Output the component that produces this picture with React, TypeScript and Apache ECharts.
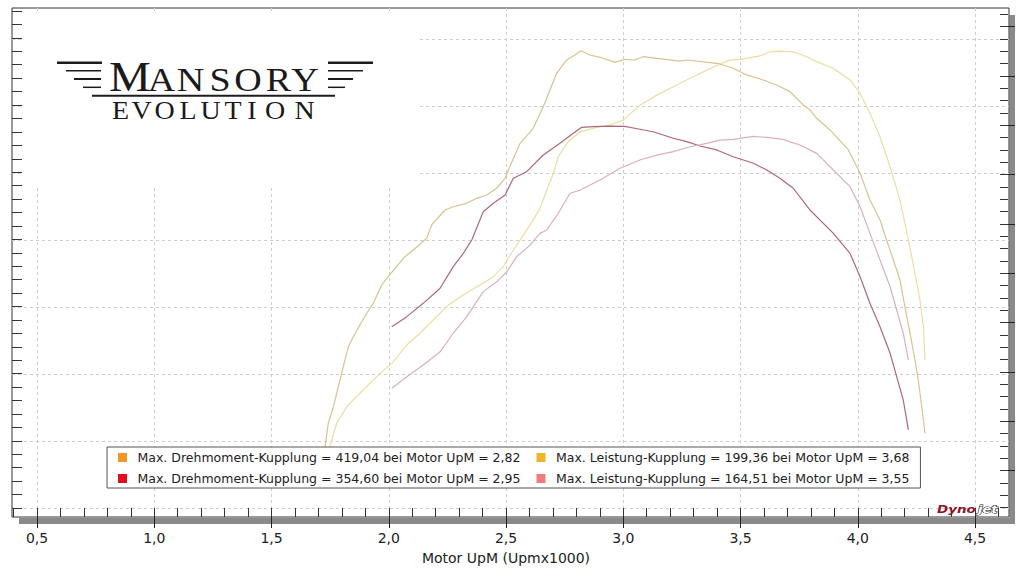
import React, { useEffect, useRef } from "react";
import * as echarts from "echarts";

// ---------- data ----------
const NAME_T1 = "Max. Drehmoment-Kupplung = 419,04 bei Motor UpM = 2,82";
const NAME_P1 = "Max. Leistung-Kupplung = 199,36 bei Motor UpM = 3,68";
const NAME_T2 = "Max. Drehmoment-Kupplung = 354,60 bei Motor UpM = 2,95";
const NAME_P2 = "Max. Leistung-Kupplung = 164,51 bei Motor UpM = 3,55";

const X_NAME = "Motor UpM (Upmx1000)";

// Drehmoment (Lauf 1)
const rpmT1 = [1.728, 1.742, 1.764, 1.785, 1.806, 1.828, 1.849, 1.877, 1.906, 1.934, 1.97, 1.998, 2.027, 2.069, 2.105, 2.162, 2.183, 2.24, 2.275, 2.332, 2.375, 2.418, 2.46, 2.496, 2.51, 2.56, 2.616, 2.659, 2.716, 2.759, 2.794, 2.82, 2.858, 2.901, 2.965, 3.007, 3.05, 3.085, 3.143, 3.242, 3.271, 3.37, 3.412, 3.469, 3.526, 3.597, 3.654, 3.711, 3.768, 3.796, 3.825, 3.882, 3.96, 4.01, 4.052, 4.095, 4.123, 4.152, 4.18, 4.201, 4.223, 4.244, 4.258, 4.273, 4.287];
const torqueT1 = [79.9, 100.2, 114.4, 131.5, 148.7, 165.8, 174.3, 184.4, 194.4, 202.9, 218.6, 225.7, 232.9, 242.8, 248.6, 258.6, 270.0, 282.8, 285.6, 288.5, 292.8, 295.6, 301.4, 309.9, 317.0, 339.9, 352.7, 371.2, 399.8, 411.2, 415.5, 419.04, 415.5, 413.5, 409.2, 411.8, 411.2, 414.0, 412.6, 410.3, 411.2, 408.9, 407.8, 404.1, 398.4, 394.1, 389.8, 384.1, 372.7, 368.4, 361.3, 351.3, 334.2, 314.2, 291.4, 274.2, 257.1, 240.0, 222.9, 200.0, 177.2, 154.4, 137.3, 114.4, 91.6];

// Drehmoment (Lauf 2)
const rpmT2 = [2.013, 2.077, 2.147, 2.219, 2.275, 2.318, 2.354, 2.403, 2.446, 2.496, 2.531, 2.588, 2.659, 2.73, 2.787, 2.823, 2.872, 2.943, 3.007, 3.071, 3.128, 3.213, 3.271, 3.327, 3.399, 3.469, 3.555, 3.612, 3.668, 3.725, 3.796, 3.896, 3.967, 4.01, 4.052, 4.095, 4.138, 4.166, 4.194, 4.216];
const torqueT2 = [182.9, 191.5, 202.9, 215.8, 234.3, 245.7, 257.1, 281.3, 288.5, 295.6, 309.9, 315.6, 329.9, 339.9, 348.4, 353.6, 354.1, 354.6, 354.3, 351.9, 349.8, 344.2, 341.3, 337.6, 334.2, 328.4, 322.8, 317.0, 309.9, 301.4, 282.8, 262.8, 245.7, 225.7, 202.9, 182.9, 160.1, 140.1, 120.2, 94.5];

// Leistung (Lauf 1)
const rpmP1 = [1.749, 1.778, 1.821, 1.891, 1.963, 2.013, 2.077, 2.133, 2.19, 2.254, 2.318, 2.389, 2.446, 2.488, 2.531, 2.574, 2.616, 2.645, 2.674, 2.702, 2.723, 2.759, 2.816, 2.887, 2.944, 3.0, 3.071, 3.143, 3.213, 3.285, 3.356, 3.413, 3.455, 3.498, 3.583, 3.626, 3.668, 3.725, 3.782, 3.81, 3.896, 3.967, 4.01, 4.052, 4.095, 4.138, 4.18, 4.216, 4.244, 4.265, 4.28, 4.287];
const powerP1 = [37.7, 47.3, 54.1, 60.9, 67.7, 71.8, 79.3, 84.1, 89.5, 95.6, 99.7, 103.8, 107.2, 111.3, 118.1, 124.2, 130.4, 135.1, 142.6, 149.4, 156.2, 161.7, 166.4, 168.2, 169.2, 171.2, 177.3, 181.4, 184.8, 188.3, 191.6, 194.1, 195.7, 196.0, 197.4, 199.1, 199.36, 199.1, 197.1, 195.7, 192.3, 187.6, 182.1, 174.0, 164.4, 152.1, 138.5, 122.2, 108.6, 97.7, 86.8, 73.2];

// Leistung (Lauf 2)
const rpmP2 = [2.013, 2.077, 2.147, 2.219, 2.275, 2.332, 2.403, 2.46, 2.503, 2.546, 2.602, 2.645, 2.674, 2.723, 2.773, 2.816, 2.901, 2.986, 3.071, 3.143, 3.213, 3.285, 3.356, 3.413, 3.469, 3.555, 3.612, 3.683, 3.711, 3.754, 3.825, 3.896, 3.967, 4.01, 4.052, 4.095, 4.138, 4.166, 4.194, 4.216];
const powerP2 = [61.6, 66.3, 71.1, 76.5, 84.1, 90.8, 101.1, 105.1, 109.2, 115.4, 120.1, 124.9, 126.3, 133.1, 141.3, 142.6, 146.7, 151.5, 154.9, 156.9, 158.3, 160.3, 161.7, 163.0, 163.3, 164.51, 164.1, 163.3, 162.3, 161.0, 157.6, 150.8, 144.0, 135.8, 124.9, 114.0, 103.1, 93.6, 84.1, 73.2];

// axis ranges
const X_MIN = 0.5;
const X_MAX = 4.5;
const X_STEP = 0.5;
const X_MINOR_MIN = 0.4;
const X_MINOR_MAX = 4.6;
const X_MINOR_STEP = 0.1;
const TORQUE_MIN = 20;
const TORQUE_MAX = 455.7;
const POWER_MIN = 9;
const POWER_MAX = 217;

const zip = (xs: number[], ys: number[]) => xs.map((x, i) => [x, ys[i]]);

const FONT = "DejaVu Sans";
const SERIF = "Liberation Serif";

function letters(chars: string[], xs: number[], ys: number[], sizes: number[], sx: number) {
  return chars.map((c, i) => ({
    type: "text",
    z: 3,
    silent: true,
    x: xs[i],
    y: ys[i],
    scaleX: sx,
    style: {
      text: c,
      fontFamily: SERIF,
      fontSize: sizes[i],
      fill: "#1a1a1a",
      align: "center",
      textAlign: "center",
      verticalAlign: "middle",
      textVerticalAlign: "middle",
    },
  }));
}

function wing(x1: number, x2: number, y: number, w: number) {
  return {
    type: "line",
    z: 3,
    silent: true,
    shape: { x1, y1: y, x2, y2: y },
    style: { stroke: "#1c1c1c", lineWidth: w },
  };
}

function buildOption() {
  const hiddenX = (g: number) => ({ type: "value", gridIndex: g, show: false, min: 0, max: 1, axisLine: { onZero: false } });
  const hiddenY = (g: number) => ({ type: "value", gridIndex: g, show: false, min: 0, max: 1, axisLine: { onZero: false } });
  const tickStyle = { color: "#333", width: 1 };

  const mansoryChars = ["M", "A", "N", "S", "O", "R", "Y"];
  const mansoryX = [130, 161.5, 190.5, 220, 248, 278.5, 305];
  const mansoryY = [76.5, 79.2, 79.2, 79.2, 79.2, 79.2, 79.2];
  const mansorySize = [42, 34, 34, 34, 34, 34, 34];
  const evoChars = ["E", "V", "O", "L", "U", "T", "I", "O", "N"];
  const evoX = [120.5, 141.5, 164.5, 188, 210.5, 233, 252, 275, 304.5];

  return {
    animation: false,
    backgroundColor: "#ffffff",
    grid: [
      { left: 12, top: 8, width: 997, height: 509, show: true, borderColor: "#333", borderWidth: 1, backgroundColor: "transparent" },
      { left: 37, top: 8, width: 938, height: 509 },
      { left: 12, top: 39, width: 997, height: 469 },
      { left: 12, top: 11, width: 997, height: 497 },
      { left: 12, top: 14.3, width: 996, height: 493.4 },
      { left: 12, top: 26.7, width: 996, height: 444 },
      { left: 13.55, top: 8, width: 984.9, height: 509 },
    ],
    xAxis: [
      hiddenX(0),
      {
        type: "value",
        gridIndex: 1,
        min: X_MIN,
        max: X_MAX,
        interval: X_STEP,
        position: "bottom",
        axisLine: { show: false, onZero: false },
        axisTick: { show: true, inside: false, length: 11, lineStyle: { color: "#222", width: 1 } },
        axisLabel: {
          margin: 14,
          fontFamily: FONT,
          fontSize: 14,
          color: "#222",
          formatter: (v: number) => v.toFixed(1).replace(".", ","),
        },
        splitLine: { show: true, lineStyle: { color: "#cdcdcd", type: [3, 3], width: 1 } },
        name: X_NAME,
        nameLocation: "middle",
        nameGap: 34,
        nameTextStyle: { fontFamily: FONT, fontSize: 14, color: "#222" },
      },
      hiddenX(2),
      hiddenX(3),
      hiddenX(4),
      hiddenX(5),
      {
        type: "value",
        gridIndex: 6,
        min: X_MINOR_MIN,
        max: X_MINOR_MAX,
        interval: X_MINOR_STEP,
        axisLine: { show: false, onZero: false },
        axisTick: { show: true, inside: true, length: 9, lineStyle: tickStyle },
        axisLabel: { show: false },
        splitLine: { show: false },
      },
    ],
    yAxis: [
      hiddenY(0),
      { type: "value", gridIndex: 1, show: false, min: TORQUE_MIN, max: TORQUE_MAX, axisLine: { onZero: false } },
      { type: "value", gridIndex: 1, show: false, position: "right", min: POWER_MIN, max: POWER_MAX, axisLine: { onZero: false } },
      {
        type: "value",
        gridIndex: 2,
        min: 0,
        max: 7,
        interval: 1,
        axisLine: { show: false, onZero: false },
        axisTick: { show: false },
        axisLabel: { show: false },
        splitLine: { show: true, lineStyle: { color: "#cdcdcd", type: [3, 3], width: 1 } },
      },
      {
        type: "value",
        gridIndex: 3,
        min: 0,
        max: 37,
        interval: 1,
        axisLine: { show: false, onZero: false },
        axisTick: { show: true, inside: true, length: 10, lineStyle: tickStyle },
        axisLabel: { show: false },
        splitLine: { show: false },
      },
      {
        type: "value",
        gridIndex: 4,
        position: "right",
        min: 0,
        max: 40,
        interval: 1,
        axisLine: { show: false, onZero: false },
        axisTick: { show: true, inside: true, length: 8, lineStyle: tickStyle },
        axisLabel: { show: false },
        splitLine: { show: false },
      },
      {
        type: "value",
        gridIndex: 5,
        position: "right",
        min: 0,
        max: 9,
        interval: 1,
        axisLine: { show: false, onZero: false },
        axisTick: { show: true, inside: false, length: 7, lineStyle: { color: "#222", width: 1 } },
        axisLabel: { show: false },
        splitLine: { show: false },
      },
      hiddenY(6),
    ],
    legend: {
      left: 107,
      top: 447,
      width: 805,
      orient: "horizontal",
      padding: [3, 11, 2, 11],
      itemGap: 6,
      itemWidth: 20,
      itemHeight: 9,
      icon: "path://M0,0H9V9H0Z",
      backgroundColor: "#ffffff",
      borderColor: "#555",
      borderWidth: 1,
      borderRadius: 0,
      selectedMode: false,
      textStyle: { fontFamily: FONT, fontSize: 12.5, color: "#222", lineHeight: 15 },
      data: [
        { name: NAME_T1, itemStyle: { color: "#ee9828" }, textStyle: { width: 393 } },
        { name: NAME_P1, itemStyle: { color: "#efb42c" } },
        { name: NAME_T2, itemStyle: { color: "#e0101c" }, textStyle: { width: 393 } },
        { name: NAME_P2, itemStyle: { color: "#ef7c80" } },
      ],
    },
    series: [
      {
        type: "line",
        name: NAME_T1,
        xAxisIndex: 1,
        yAxisIndex: 1,
        data: zip(rpmT1, torqueT1),
        symbol: "none",
        showSymbol: false,
        silent: true,
        itemStyle: { color: "#ee9828" },
        lineStyle: { color: "#dac28f", width: 1.2 },
      },
      {
        type: "line",
        name: NAME_P1,
        xAxisIndex: 1,
        yAxisIndex: 2,
        data: zip(rpmP1, powerP1),
        symbol: "none",
        showSymbol: false,
        silent: true,
        itemStyle: { color: "#efb42c" },
        lineStyle: { color: "#eedca2", width: 1.2 },
      },
      {
        type: "line",
        name: NAME_T2,
        xAxisIndex: 1,
        yAxisIndex: 1,
        data: zip(rpmT2, torqueT2),
        symbol: "none",
        showSymbol: false,
        silent: true,
        itemStyle: { color: "#e0101c" },
        lineStyle: { color: "#ae6877", width: 1.2 },
      },
      {
        type: "line",
        name: NAME_P2,
        xAxisIndex: 1,
        yAxisIndex: 2,
        data: zip(rpmP2, powerP2),
        symbol: "none",
        showSymbol: false,
        silent: true,
        itemStyle: { color: "#ef7c80" },
        lineStyle: { color: "#dbb0be", width: 1.2 },
      },
    ],
    graphic: [
      // axis shadows
      { type: "rect", z: -1, silent: true, shape: { x: 19, y: 518, width: 996, height: 6 }, style: { fill: "#8a8a8a" } },
      { type: "rect", z: -1, silent: true, shape: { x: 1009.5, y: 15, width: 5.5, height: 509 }, style: { fill: "#8a8a8a" } },
      // logo background (hides the grid behind the logo)
      { type: "rect", z: 1, silent: true, shape: { x: 23, y: 12, width: 397, height: 174 }, style: { fill: "#ffffff" } },
      // wings
      wing(57, 102, 62.7, 2.5),
      wing(66, 101, 70.7, 1.5),
      wing(74, 101, 79, 2),
      wing(83, 101, 87.3, 1.5),
      wing(328, 373, 62.7, 2.5),
      wing(328, 363, 70.7, 1.5),
      wing(328, 353, 79, 2),
      wing(328, 345, 87.3, 1.5),
      wing(92, 335, 95.7, 2),
      ...letters(mansoryChars, mansoryX, mansoryY, mansorySize, 1.12),
      ...letters(evoChars, evoX, evoChars.map(() => 110.9), evoChars.map(() => 25), 1.12),
      // Dynojet mark
      {
        type: "text",
        z: 6,
        silent: true,
        x: 937,
        y: 510,
        scaleX: 1.35,
        style: {
          text: "Dyno",
          fontFamily: FONT,
          fontSize: 10,
          fontWeight: "bold",
          fontStyle: "italic",
          fill: "#8e1528",
          align: "left",
          textAlign: "left",
          verticalAlign: "middle",
          textVerticalAlign: "middle",
        },
      },
      {
        type: "text",
        z: 6,
        silent: true,
        x: 978,
        y: 510,
        scaleX: 1.3,
        style: {
          text: "jet",
          fontFamily: FONT,
          fontSize: 10,
          fontWeight: "bold",
          fontStyle: "italic",
          fill: "#ffffff",
          stroke: "#111111",
          lineWidth: 1,
          align: "left",
          textAlign: "left",
          verticalAlign: "middle",
          textVerticalAlign: "middle",
        },
      },
    ],
  };
}

export default function App() {
  const ref = useRef<HTMLDivElement>(null);
  useEffect(() => {
    if (!ref.current) return;
    const chart = echarts.init(ref.current, null, { renderer: "svg" });
    chart.setOption(buildOption() as any);
    return () => chart.dispose();
  }, []);
  return (
    <div
      ref={ref}
      style={{ position: "fixed", left: 0, top: 0, width: 1024, height: 576, background: "#ffffff" }}
    />
  );
}
